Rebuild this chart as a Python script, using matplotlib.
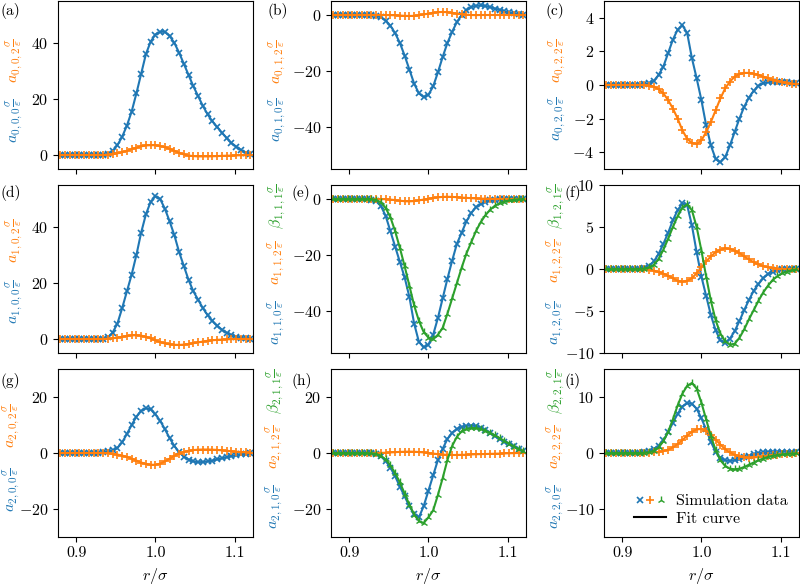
import numpy as np
import matplotlib
matplotlib.use("Agg")
import matplotlib.pyplot as plt
from matplotlib.lines import Line2D
from matplotlib.legend_handler import HandlerTuple

plt.rcParams['font.family'] = 'serif'
plt.rcParams['font.serif'] = ['cmr10']
plt.rcParams['mathtext.fontset'] = 'cm'
plt.rcParams['axes.formatter.use_mathtext'] = True
plt.rcParams['font.size'] = 11.5

# radial grid of the simulation data (r / sigma)
r = np.round(np.arange(0.880, 1.1201, 0.006), 3)

# row 0
a000 = [0, 0, 0, 0, 0, 0, 0, 0, 0, 0, 0.3, 1.5, 3.5, 6.5, 10.5, 15.5, 22, 29, 36, 40.5,
        43, 44, 44, 42.5, 40, 36.5, 32.5, 28.5, 24.5, 21, 17.5, 14.5, 12, 10, 8, 6, 4.3, 3, 1.8, 0.8, 0.2]
a002 = [0, 0, 0, 0, 0, 0, 0, 0, 0, 0, 0.1, 0.3, 0.6, 1.0, 1.5, 2.1, 2.6, 3.1, 3.4, 3.5,
        3.5, 3.2, 2.8, 2.2, 1.5, 0.8, 0.2, -0.2, -0.4, -0.5, -0.5, -0.5, -0.45, -0.4, -0.3, -0.25, -0.2, -0.15, -0.1, -0.05, 0]
a010 = [0, 0, 0, 0, 0, 0, 0, 0, 0, -0.2, -0.8, -2, -3.8, -6.5, -10, -14.5, -19.5, -24.5, -28, -29.3,
        -28.5, -25.5, -20.5, -15, -10, -6, -2.5, 0, 1.7, 2.8, 3.3, 3.4, 3.2, 2.8, 2.3, 1.8, 1.3, 0.9, 0.6, 0.3, 0.1]
a012 = [0, 0, 0, 0, 0, 0, 0, 0, 0, 0, 0, 0, -0.05, -0.1, -0.2, -0.3, -0.35, -0.3, -0.1, 0.2,
        0.5, 0.8, 1.0, 1.1, 1.0, 0.8, 0.5, 0.3, 0.1, 0, -0.05, 0, 0, 0, 0, 0, 0, 0, 0, 0, 0]
a020 = [0, 0, 0, 0, 0, 0, 0, 0, 0.03, 0.1, 0.25, 0.6, 1.1, 1.9, 2.7, 3.3, 3.55, 3.1, 1.6, 0.4,
        -0.9, -2.4, -3.6, -4.4, -4.6, -4.3, -3.6, -2.8, -2.0, -1.3, -0.75, -0.35, -0.05, 0.1, 0.17, 0.2, 0.2, 0.18, 0.15, 0.12, 0.1]
a022 = [0, 0, 0, 0, 0, 0, 0, 0, 0, -0.03, -0.1, -0.25, -0.5, -0.9, -1.4, -2.0, -2.7, -3.2, -3.45, -3.5,
        -3.3, -2.8, -2.2, -1.5, -0.8, -0.2, 0.2, 0.5, 0.65, 0.72, 0.72, 0.68, 0.6, 0.5, 0.4, 0.32, 0.25, 0.18, 0.12, 0.08, 0.05]

# row 1
a100 = [0, 0, 0, 0, 0, 0, 0, 0, 0, 0.1, 0.6, 2.3, 5.5, 11, 17, 23, 30, 38, 44.5, 49,
        51, 50, 46.5, 42, 37, 31, 26, 21, 17, 14, 11, 8.5, 6.5, 4.8, 3.3, 2.2, 1.4, 0.8, 0.4, 0.2, 0.1]
a102 = [0, 0, 0, 0, 0, 0, 0, 0, 0, 0, 0.1, 0.25, 0.5, 0.8, 1.1, 1.3, 1.35, 1.2, 0.8, 0.2,
        -0.5, -1.1, -1.6, -1.9, -2.05, -2.1, -2.0, -1.8, -1.5, -1.2, -0.9, -0.65, -0.45, -0.3, -0.2, -0.12, -0.06, 0, 0, 0, 0]
a110 = [0, 0, 0, 0, 0, 0, 0, 0, -0.2, -0.8, -2.5, -6, -11.5, -17, -22.5, -28, -35, -44.5, -51, -53,
        -52, -48.5, -42.5, -35.5, -28.5, -22, -16, -12, -8, -5, -3, -1.8, -1, -0.5, -0.2, -0.1, 0, 0, 0, 0, 0]
a112 = [0, 0, 0, 0, 0, 0, 0, 0, 0, 0, 0, -0.1, -0.2, -0.4, -0.6, -0.8, -0.85, -0.75, -0.5, -0.2,
        0.1, 0.4, 0.6, 0.75, 0.8, 0.75, 0.65, 0.5, 0.4, 0.3, 0.2, 0.15, 0.1, 0.05, 0, 0, 0, 0, 0, 0, 0]
b111 = [0, 0, 0, 0, 0, 0, 0, 0, 0, -0.3, -1.2, -3.2, -6.5, -11.5, -17.5, -24, -31, -38, -43.5, -47.5,
        -49.5, -50, -48.5, -46, -41, -35.5, -30, -24.5, -19.5, -15.5, -11.5, -8.3, -5.8, -3.8, -2.4, -1.5, -0.9, -0.5, -0.25, -0.1, 0]
a120 = [0, 0, 0, 0, 0, 0, 0, 0.05, 0.15, 0.4, 0.9, 1.8, 3.0, 4.3, 5.8, 7.0, 7.8, 7.6, 5.2, 2.0,
        -0.9, -3.2, -5.5, -7.3, -8.5, -8.8, -8.3, -7.4, -6.2, -4.9, -3.7, -2.6, -1.8, -1.1, -0.6, -0.3, -0.1, 0, 0, 0, 0]
a122 = [0, 0, 0, 0, 0, 0, 0, 0, -0.05, -0.1, -0.2, -0.35, -0.55, -0.8, -1.1, -1.4, -1.5, -1.4, -1.1, -0.5,
        0.2, 0.9, 1.5, 2.0, 2.3, 2.45, 2.4, 2.2, 1.9, 1.5, 1.15, 0.8, 0.55, 0.35, 0.2, 0.1, 0.05, 0, 0, 0, 0]
b121 = [0, 0, 0, 0, 0, 0, 0, 0, 0.05, 0.2, 0.5, 1.2, 2.3, 3.6, 5.0, 6.3, 7.3, 7.7, 7.0, 5.0,
        2.2, -0.9, -3.8, -6.1, -7.7, -8.6, -9.0, -8.9, -8.2, -7.2, -6.0, -4.9, -3.8, -2.8, -2.0, -1.3, -0.85, -0.5, -0.3, -0.15, -0.05]

# row 2
a200 = [0, 0, 0, 0, 0, 0, 0, 0, 0.1, 0.3, 0.6, 0.9, 1.8, 3.8, 6.8, 10.0, 13.0, 15.0, 16.0, 15.6,
        13.8, 11.5, 8.5, 5.3, 2.5, 0.3, -1.3, -2.4, -3.0, -3.3, -3.2, -3.0, -2.7, -2.3, -1.9, -1.5, -1.1, -0.8, -0.5, -0.3, -0.15]
a202 = [0, 0, 0, 0, 0, 0, 0, 0, 0, 0, -0.1, -0.3, -0.55, -0.9, -1.4, -2.0, -2.7, -3.4, -3.9, -4.2,
        -4.2, -3.8, -3.0, -2.0, -1.0, -0.2, 0.4, 0.8, 1.05, 1.2, 1.25, 1.25, 1.2, 1.1, 0.95, 0.8, 0.65, 0.5, 0.35, 0.25, 0.15]
a210 = [0, 0, 0, 0, 0, 0, 0, 0, -0.1, -0.4, -1.2, -2.8, -5.2, -8.3, -12, -15.5, -19, -21.8, -23, -19,
        -13.5, -8, -2.5, 1.5, 5, 7.2, 8.6, 9.3, 9.7, 9.8, 9.6, 9.1, 8.3, 7.2, 6.0, 4.9, 4.0, 3.3, 2.4, 1.5, 0.7]
a212 = [0, 0, 0, 0, 0, 0, 0, 0, 0, 0, 0.05, 0.1, 0.2, 0.3, 0.4, 0.45, 0.5, 0.45, 0.35, 0.2,
        0, -0.2, -0.4, -0.55, -0.65, -0.7, -0.7, -0.65, -0.6, -0.5, -0.45, -0.4, -0.35, -0.3, -0.25, -0.2, -0.15, -0.1, -0.05, 0, 0]
b211 = [0, 0, 0, 0, 0, 0, 0, 0, -0.1, -0.3, -1.0, -2.3, -4.4, -7.2, -10.5, -14.5, -18.5, -22, -24.3, -25,
        -23, -20.5, -15, -9, -2.5, 2.5, 5.8, 7.8, 8.6, 8.9, 8.9, 8.6, 8.0, 7.2, 6.3, 5.3, 4.3, 3.3, 2.3, 1.4, 0.6]
a220 = [0, 0, 0, 0, 0, 0, 0, 0.05, 0.15, 0.35, 0.7, 1.3, 2.3, 3.7, 5.4, 7.0, 8.3, 8.9, 8.8, 7.9,
        6.2, 4.2, 2.0, 0.2, -0.9, -1.3, -1.4, -1.3, -1.1, -0.8, -0.5, -0.25, -0.05, 0.1, 0.2, 0.25, 0.25, 0.25, 0.2, 0.15, 0.1]
a222 = [0, 0, 0, 0, 0, 0, 0, 0, 0, 0.05, 0.1, 0.2, 0.35, 0.6, 1.0, 1.6, 2.3, 3.1, 3.8, 4.2,
        4.3, 4.0, 3.3, 2.4, 1.5, 0.7, 0.1, -0.3, -0.6, -0.8, -0.85, -0.8, -0.7, -0.6, -0.5, -0.4, -0.3, -0.2, -0.15, -0.1, -0.05]
b221 = [0, 0, 0, 0, 0, 0, 0, 0, 0.05, 0.15, 0.4, 1.0, 2.1, 3.8, 6.0, 8.5, 10.6, 12.0, 12.5, 11.5,
        9.0, 6.0, 3.0, 0.5, -1.3, -2.3, -2.8, -2.9, -2.8, -2.5, -2.1, -1.7, -1.3, -1.0, -0.7, -0.5, -0.35, -0.25, -0.15, -0.1, -0.05]

panel_letters = ['(a)', '(b)', '(c)', '(d)', '(e)', '(f)', '(g)', '(h)', '(i)']
x_ticks = [0.9, 1.0, 1.1]
x_ticklabels = ['0.9', '1.0', '1.1']

# per panel: (blue a_ij0, orange a_ij2, green beta_ij1 or None)
panels = [
    (a000, a002, None, '0,0', None),
    (a010, a012, None, '0,1', None),
    (a020, a022, None, '0,2', None),
    (a100, a102, None, '1,0', None),
    (a110, a112, b111, '1,1', '1,1,1'),
    (a120, a122, b121, '1,2', '1,2,1'),
    (a200, a202, None, '2,0', None),
    (a210, a212, b211, '2,1', '2,1,1'),
    (a220, a222, b221, '2,2', '2,2,1'),
]
ylims = [(-5, 55), (-55, 5), (-5, 5), (-5, 55), (-55, 5), (-10, 10), (-30, 30), (-30, 30), (-15, 15)]
yticks = [[0, 20, 40], [-40, -20, 0], [-4, -2, 0, 2, 4], [0, 20, 40], [-40, -20, 0],
          [-10, -5, 0, 5, 10], [-20, 0, 20], [-20, 0, 20], [-10, 0, 10]]

# label placement in axes fractions
lab_x = [-0.22, -0.27, -0.235, -0.22, -0.276, -0.245, -0.235, -0.286, -0.245]
lab_y = [(0.29, 0.645, None), (0.295, 0.64, None), (0.298, 0.646, None),
         (0.304, 0.667, None), (0.182, 0.539, 0.875), (0.182, 0.548, 0.875),
         (0.28, 0.664, None), (0.182, 0.539, 0.865), (0.182, 0.539, 0.865)]
letter_pos = [(-0.296, 0.94), (-0.327, 0.94), (-0.30, 0.94),
              (-0.296, 0.952), (-0.205, 0.952), (-0.205, 0.952),
              (-0.296, 0.93), (-0.205, 0.93), (-0.205, 0.93)]

fig = plt.figure(figsize=(8, 5.86), dpi=100)
lefts = [0.0725, 0.41375, 0.755]
bottoms = [0.7116, 0.3976, 0.0836]
w, h = 0.2435, 0.2867

frac = r'\frac{\sigma}{\varepsilon}'
for i, (blue, orange, green, idx, bidx) in enumerate(panels):
    row, col = divmod(i, 3)
    ax = fig.add_axes([lefts[col], bottoms[row], w, h])
    ax.plot(r, blue, color='C0', marker='x', ms=5, mew=1.2, lw=1.5)
    ax.plot(r, orange, color='C1', marker='+', ms=6, mew=1.2, lw=1.5)
    if green is not None:
        ax.plot(r, green, color='C2', marker='2', ms=6, mew=1.0, lw=1.5)
    ax.set_xlim(0.877, 1.123)
    ax.set_ylim(*ylims[i])
    ax.set_yticks(yticks[i])
    ax.set_xticks(x_ticks)
    if row == 2:
        ax.set_xticklabels(x_ticklabels)
        ax.set_xlabel(r'$r/\sigma$')
    else:
        ax.set_xticklabels([])

    lx = lab_x[i]
    yb, yo, yg = lab_y[i]
    ax.text(lx, yb, r'$a_{%s,0}%s$' % (idx, frac), color='C0', rotation=90,
            transform=ax.transAxes, ha='center', va='center')
    ax.text(lx, yo, r'$a_{%s,2}%s$' % (idx, frac), color='C1', rotation=90,
            transform=ax.transAxes, ha='center', va='center')
    if bidx is not None:
        ax.text(lx, yg, r'$\beta_{%s}%s$' % (bidx, frac), color='C2', rotation=90,
                transform=ax.transAxes, ha='center', va='center')
    px, py = letter_pos[i]
    ax.text(px, py, panel_letters[i], transform=ax.transAxes, ha='left', va='center',
            fontsize=11)

    if i == 8:
        hx = Line2D([], [], ls='none', marker='x', color='C0', ms=5, mew=1.2)
        hp = Line2D([], [], ls='none', marker='+', color='C1', ms=6, mew=1.2)
        ht = Line2D([], [], ls='none', marker='2', color='C2', ms=6, mew=1.0)
        hl = Line2D([], [], color='black', lw=1.5)
        ax.legend([(hx, hp, ht), hl], ['Simulation data', 'Fit curve'],
                  handler_map={tuple: HandlerTuple(ndivide=None, pad=0)},
                  loc='lower right', frameon=False, handlelength=2.0,
                  handletextpad=0.6, borderaxespad=0.3, labelspacing=0.2)

fig.savefig('out.png', dpi=100)
